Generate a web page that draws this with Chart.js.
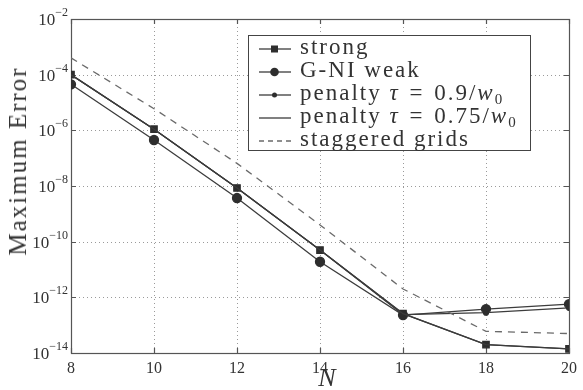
<!DOCTYPE html>
<html>
<head>
<meta charset="utf-8">
<script src="https://cdn.jsdelivr.net/npm/chart.js@4.4.1/dist/chart.umd.min.js"></script>
<style>
  html, body { margin: 0; padding: 0; background: #fff; }
  #wrap { position: relative; width: 583px; height: 390px; }
  canvas { position: absolute; left: 0; top: 0; }
  .ytitle { position: absolute; left: 18px; top: 161px; transform: translate(-50%, -50%) rotate(-90deg);
            font-family: "Liberation Serif", serif; font-size: 25px; letter-spacing: 2px; color: #333; white-space: nowrap; }
  .xtitle { position: absolute; left: 327px; top: 378px; transform: translate(-50%, -50%);
            font-family: "Liberation Serif", serif; font-style: italic; font-size: 26px; color: #333; }
  #legend { position: absolute; left: 248px; top: 35px; width: 283px; height: 116px;
            border: 1px solid #444; background: #fff; box-sizing: border-box;
            font-family: "Liberation Serif", serif; font-size: 23px; letter-spacing: 2px; color: #333; padding-top: 1px; }
  .row { position: relative; height: 23px; line-height: 23px; white-space: nowrap; }
  .row svg { position: absolute; left: 9px; top: 0; }
  .row span.t { position: absolute; left: 51px; top: -2px; }
  .eq { margin: 0 2px; }
  sub { font-size: 15px; vertical-align: -4px; line-height: 0; letter-spacing: 0; }
</style>
</head>
<body>
<div id="wrap">
  <canvas id="c" width="583" height="390"></canvas>
  <div class="ytitle">Maximum Error</div>
  <div class="xtitle">N</div>
  <div id="legend"></div>
</div>
<script>
const N = [8, 10, 12, 14, 16, 18, 20];
const strong     = [1.0e-4, 1.1e-6, 8.5e-9, 5.0e-11, 2.6e-13, 2.0e-14, 1.4e-14];
const gniWeak    = [4.5e-5, 4.5e-7, 3.7e-9, 1.9e-11, 2.3e-13, 3.8e-13, 5.7e-13];
const penalty09  = [1.0e-4, 1.1e-6, 8.5e-9, 5.0e-11, 2.4e-13, 2.8e-13, 4.2e-13];
const penalty075 = [1.0e-4, 1.1e-6, 8.5e-9, 5.0e-11, 2.6e-13, 2.0e-14, 1.4e-14];
const staggered  = [4.0e-4, 6.0e-6, 6.5e-8, 4.0e-10, 2.0e-12, 6.0e-14, 5.0e-14];
const xTicks = [8, 10, 12, 14, 16, 18, 20];
const yTickExps = [-14, -12, -10, -8, -6, -4, -2];
const seriesNames = ['strong', 'G-NI weak', 'penalty \u03c4 = 0.9/w0', 'penalty \u03c4 = 0.75/w0', 'staggered grids'];

function pts(arr){ return N.map((n, i) => ({x: n, y: arr[i]})); }

const LINE = '#3c3c3c';
const MARK = '#2e2e2e';
const FONT = '"Liberation Serif", serif';

const framePlugin = {
  id: 'frame',
  beforeDatasetsDraw(chart) {
    const {ctx, chartArea: {left, right, top, bottom}, scales: {x, y}} = chart;
    ctx.save();
    ctx.strokeStyle = '#9a9a9a';
    ctx.lineWidth = 1;
    ctx.setLineDash([1, 3]);
    xTicks.forEach(t => {
      const px = Math.round(x.getPixelForValue(t)) + 0.5;
      ctx.beginPath(); ctx.moveTo(px, top); ctx.lineTo(px, bottom); ctx.stroke();
    });
    yTickExps.forEach(e => {
      const py = Math.round(y.getPixelForValue(Math.pow(10, e))) + 0.5;
      ctx.beginPath(); ctx.moveTo(left, py); ctx.lineTo(right, py); ctx.stroke();
    });
    ctx.setLineDash([]);
    ctx.strokeStyle = '#555';
    ctx.lineWidth = 1.2;
    ctx.strokeRect(Math.round(left) + 0.5, Math.round(top) + 0.5, Math.round(right - left), Math.round(bottom - top));
    const tl = 5;
    xTicks.forEach(t => {
      const px = Math.round(x.getPixelForValue(t)) + 0.5;
      ctx.beginPath(); ctx.moveTo(px, bottom); ctx.lineTo(px, bottom - tl);
      ctx.moveTo(px, top); ctx.lineTo(px, top + tl); ctx.stroke();
    });
    yTickExps.forEach(e => {
      const py = Math.round(y.getPixelForValue(Math.pow(10, e))) + 0.5;
      ctx.beginPath(); ctx.moveTo(left, py); ctx.lineTo(left + tl, py);
      ctx.moveTo(right, py); ctx.lineTo(right - tl, py); ctx.stroke();
    });
    // y tick labels: 10 with raised exponent
    ctx.fillStyle = '#333';
    ctx.textBaseline = 'alphabetic';
    ctx.textAlign = 'left';
    yTickExps.forEach(e => {
      const py = y.getPixelForValue(Math.pow(10, e));
      const expTxt = '\u2212' + Math.abs(e);
      ctx.font = '12px ' + FONT;
      const ew = ctx.measureText(expTxt).width;
      ctx.font = '17px ' + FONT;
      const bw = ctx.measureText('10').width;
      const rightEdge = left - 3;
      const sx = rightEdge - ew;
      ctx.fillText('10', sx - bw, py + 6);
      ctx.font = '12px ' + FONT;
      ctx.fillText(expTxt, sx, py - 3);
    });
    ctx.restore();
  }
};

Chart.defaults.font.family = FONT;
Chart.defaults.color = '#333';

new Chart(document.getElementById('c'), {
  type: 'line',
  data: {
    datasets: [
      { label: seriesNames[4], data: pts(staggered), borderColor: '#6a6a6a', borderWidth: 1.3, borderDash: [7, 6], pointRadius: 0, tension: 0 },
      { label: seriesNames[3], data: pts(penalty075), borderColor: LINE, borderWidth: 1.2, pointRadius: 0, tension: 0 },
      { label: seriesNames[2], data: pts(penalty09), borderColor: LINE, borderWidth: 1.2, pointStyle: 'circle', pointRadius: 2.5, pointBackgroundColor: MARK, pointBorderColor: MARK, tension: 0 },
      { label: seriesNames[1], data: pts(gniWeak), borderColor: LINE, borderWidth: 1.3, pointStyle: 'circle', pointRadius: 4.5, pointBackgroundColor: MARK, pointBorderColor: MARK, tension: 0 },
      { label: seriesNames[0], data: pts(strong), borderColor: LINE, borderWidth: 1.3, pointStyle: 'rect', pointRadius: 4.5, pointBackgroundColor: MARK, pointBorderColor: MARK, tension: 0 }
    ]
  },
  options: {
    responsive: false,
    animation: false,
    events: [],
    layout: { padding: { top: 19, right: 12, left: 0, bottom: 0 } },
    plugins: { legend: { display: false }, tooltip: { enabled: false } },
    scales: {
      x: {
        type: 'linear', min: 8, max: 20,
        grid: { display: false, drawTicks: false },
        border: { display: false },
        afterBuildTicks: s => { s.ticks = xTicks.map(v => ({value: v})); },
        afterFit: s => { s.height = 37; },
        ticks: { font: { size: 16 }, padding: 6, color: '#333', autoSkip: false, maxRotation: 0, callback: v => String(v) }
      },
      y: {
        type: 'logarithmic', min: 1e-14, max: 1e-2,
        grid: { display: false, drawTicks: false },
        border: { display: false },
        afterBuildTicks: s => { s.ticks = yTickExps.map(e => ({value: Math.pow(10, e)})); },
        afterFit: s => { s.width = 71; },
        ticks: { display: false }
      }
    }
  },
  plugins: [framePlugin]
});

// legend
const legendEl = document.getElementById('legend');
const legendItems = [
  { html: seriesNames[0], marker: 'rect', dash: false },
  { html: seriesNames[1], marker: 'circle', dash: false },
  { html: 'penalty <i>\u03c4</i> <span class="eq">=</span> 0.9/<i>w</i><sub>0</sub>', marker: 'small', dash: false },
  { html: 'penalty <i>\u03c4</i> <span class="eq">=</span> 0.75/<i>w</i><sub>0</sub>', marker: null, dash: false },
  { html: seriesNames[4], marker: null, dash: true }
];
legendItems.forEach(it => {
  let m = '';
  if (it.marker === 'rect') m = `<rect x="13" y="8.5" width="7" height="7" fill="${MARK}"/>`;
  else if (it.marker === 'circle') m = `<circle cx="16.5" cy="12" r="4.3" fill="${MARK}"/>`;
  else if (it.marker === 'small') m = `<circle cx="16.5" cy="12" r="2.5" fill="${MARK}"/>`;
  const line = it.dash
    ? `<line x1="1" y1="12" x2="33" y2="12" stroke="#6a6a6a" stroke-width="1.3" stroke-dasharray="5,4"/>`
    : `<line x1="1" y1="12" x2="33" y2="12" stroke="${LINE}" stroke-width="1.3"/>`;
  const row = document.createElement('div');
  row.className = 'row';
  row.innerHTML = `<svg width="34" height="23">${line}${m}</svg><span class="t">${it.html}</span>`;
  legendEl.appendChild(row);
});
</script>
</body>
</html>
